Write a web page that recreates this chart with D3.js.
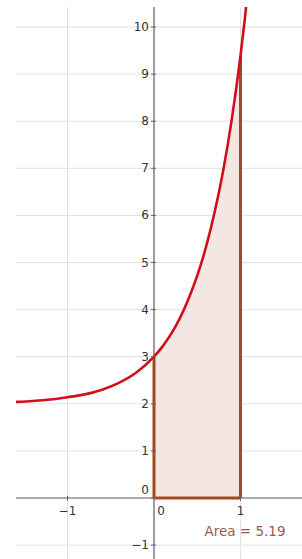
<!DOCTYPE html>
<html>
<head>
<meta charset="utf-8">
<script src="https://cdn.jsdelivr.net/npm/d3@7"></script>
<style>
  body { margin: 0; background: #fff; }
  svg { display: block; }
  .tick-label { font-family: "DejaVu Sans", sans-serif; font-size: 12px; fill: #333; }
</style>
</head>
<body>
<div class="chart"></div>
<script>
// curve
const curveX = [-1.6, -1.4, -1.2, -1.0, -0.8, -0.6, -0.4, -0.2, 0, 0.1, 0.2, 0.3, 0.4, 0.5, 0.6, 0.7, 0.8, 0.9, 1.0, 1.05, 1.1];
const curveY = [2.04, 2.06, 2.09, 2.14, 2.20, 2.30, 2.45, 2.67, 3.0, 3.22, 3.49, 3.82, 4.23, 4.72, 5.32, 6.06, 6.95, 8.05, 9.39, 10.17, 11.03];
const xTicks = [-1, 0, 1];
const yTicks = [-1, 0, 1, 2, 3, 4, 5, 6, 7, 8, 9, 10];
const areaFrom = 0;
const areaTo = 1;
const areaLabel = 'Area = 5.19';

const width = 302;
const height = 559;

const svg = d3.select('.chart')
  .append('svg')
  .attr('width', width)
  .attr('height', height);

const x = d3.scaleLinear().domain([-1.595, 1.711]).range([16, 302]);
const y = d3.scaleLinear().domain([-1.295, 10.425]).range([559, 7]);

const pts = curveX.map((v, i) => ({ x: v, y: curveY[i] }));

svg.append('defs').append('clipPath').attr('id', 'clip')
  .append('rect')
  .attr('x', 16).attr('y', 7)
  .attr('width', width - 16).attr('height', height - 7);

const plot = svg.append('g').attr('clip-path', 'url(#clip)');

// grid
plot.selectAll('.vgrid')
  .data(d3.range(-1, 2))
  .enter().append('line')
  .attr('x1', d => x(d)).attr('x2', d => x(d))
  .attr('y1', 7).attr('y2', height)
  .attr('stroke', '#e3e3e3').attr('stroke-width', 1);

plot.selectAll('.hgrid')
  .data(d3.range(-1, 11))
  .enter().append('line')
  .attr('x1', 16).attr('x2', width)
  .attr('y1', d => y(d)).attr('y2', d => y(d))
  .attr('stroke', '#e3e3e3').attr('stroke-width', 1);

// shaded area under curve
const inside = pts.filter(d => d.x >= areaFrom && d.x <= areaTo);
const area = d3.area()
  .x(d => x(d.x))
  .y0(y(0))
  .y1(d => y(d.y))
  .curve(d3.curveMonotoneX);

plot.append('path')
  .datum(inside)
  .attr('d', area)
  .attr('fill', '#f3e3df')
  .attr('fill-opacity', 0.9);

// axes
plot.append('line')
  .attr('x1', 16).attr('x2', width)
  .attr('y1', y(0)).attr('y2', y(0))
  .attr('stroke', '#666').attr('stroke-width', 1.2);

plot.append('line')
  .attr('x1', x(0)).attr('x2', x(0))
  .attr('y1', 7).attr('y2', height)
  .attr('stroke', '#666').attr('stroke-width', 1.2);

// region outline
const edge = '#a5481f';
plot.append('line')
  .attr('x1', x(areaFrom)).attr('x2', x(areaFrom))
  .attr('y1', y(0)).attr('y2', y(curveY[curveX.indexOf(areaFrom)]))
  .attr('stroke', edge).attr('stroke-width', 3);
plot.append('line')
  .attr('x1', x(areaTo)).attr('x2', x(areaTo))
  .attr('y1', y(0)).attr('y2', y(curveY[curveX.indexOf(areaTo)]))
  .attr('stroke', edge).attr('stroke-width', 3);
plot.append('line')
  .attr('x1', x(areaFrom)).attr('x2', x(areaTo))
  .attr('y1', y(0)).attr('y2', y(0))
  .attr('stroke', edge).attr('stroke-width', 3);

// curve
const line = d3.line()
  .x(d => x(d.x))
  .y(d => y(d.y))
  .curve(d3.curveMonotoneX);

plot.append('path')
  .datum(pts)
  .attr('d', line)
  .attr('fill', 'none')
  .attr('stroke', '#d0101a')
  .attr('stroke-width', 2.6);

// ticks and labels on y
svg.selectAll('.ytick')
  .data(yTicks)
  .enter().append('line')
  .attr('x1', x(0) - 3).attr('x2', x(0) + 2)
  .attr('y1', d => y(d)).attr('y2', d => y(d))
  .attr('stroke', '#666');

svg.selectAll('.ylab')
  .data(yTicks)
  .enter().append('text')
  .attr('class', 'tick-label')
  .attr('x', x(0) - 5)
  .attr('y', d => d === 0 ? y(d) - 4 : y(d) + 4)
  .attr('text-anchor', 'end')
  .text(d => d < 0 ? '\u2212' + Math.abs(d) : d);

// ticks and labels on x
svg.selectAll('.xtick')
  .data(xTicks.filter(d => d !== 0))
  .enter().append('line')
  .attr('x1', d => x(d)).attr('x2', d => x(d))
  .attr('y1', y(0) - 2).attr('y2', y(0) + 3)
  .attr('stroke', '#666');

svg.selectAll('.xlab')
  .data(xTicks)
  .enter().append('text')
  .attr('class', 'tick-label')
  .attr('x', d => d === 0 ? x(d) + 7 : x(d))
  .attr('y', y(0) + 17)
  .attr('text-anchor', 'middle')
  .text(d => d < 0 ? '\u2212' + Math.abs(d) : d);

svg.append('text')
  .attr('x', 245)
  .attr('y', 536)
  .attr('text-anchor', 'middle')
  .style('font-family', '"DejaVu Sans", sans-serif')
  .style('font-size', '13.5px')
  .attr('fill', '#9c5a44')
  .text(areaLabel);
</script>
</body>
</html>
